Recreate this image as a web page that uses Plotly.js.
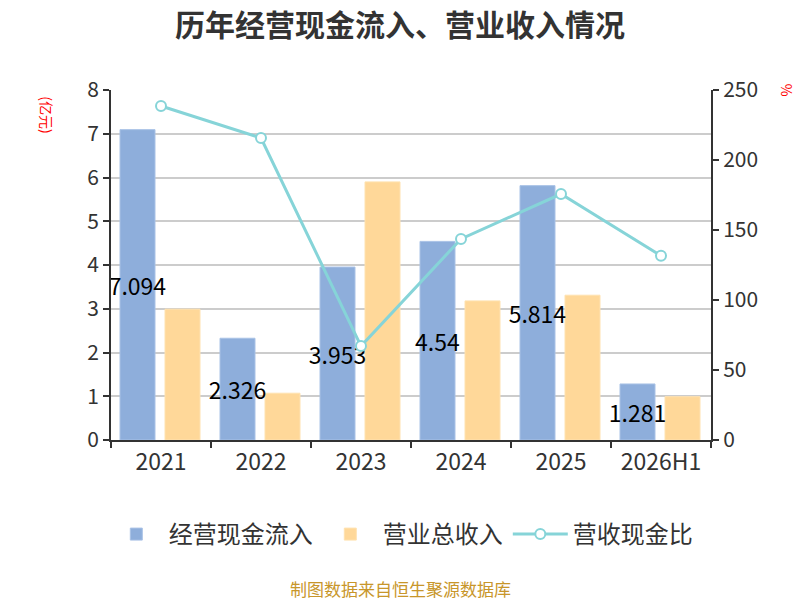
<!DOCTYPE html>
<html>
<head>
<meta charset="utf-8">
<script src="https://cdn.plot.ly/plotly-3.0.1.min.js"></script>
<style>
  html, body { margin: 0; padding: 0; background: #fff; }
  #chart { width: 800px; height: 600px; }
</style>
</head>
<body>
<div id="chart"></div>
<script>
// Chart data
const years = ['2021', '2022', '2023', '2024', '2025', '2026H1'];
const cashInflow = [7.094, 2.326, 3.953, 4.54, 5.814, 1.281];   // 经营现金流入 (亿元)
const revenue = [2.99, 1.07, 5.9, 3.18, 3.31, 0.99];            // 营业总收入 (亿元)
const cashRatio = [238.6, 215.7, 67.1, 143.6, 175.7, 131.6];    // 营收现金比 (%)

const FONT = '"Noto Sans CJK SC", "Noto Sans", sans-serif';

// revenue bars are drawn first so the cash-inflow labels sit on top of them
const traceRev = {
  x: years,
  y: revenue,
  name: '营业总收入',
  type: 'bar',
  width: 0.35,
  offset: 0.04,
  legendrank: 2,
  marker: { color: '#ffd899', line: { color: '#ffe2b0', width: 1 } },
  hoverinfo: 'x+y'
};

const traceCash = {
  x: years,
  y: cashInflow,
  name: '经营现金流入',
  type: 'bar',
  width: 0.35,
  offset: -0.41,
  legendrank: 1,
  marker: { color: '#8eaedb', line: { color: '#a9c2e6', width: 1 } },
  text: cashInflow.map(String),
  textposition: 'inside',
  insidetextanchor: 'middle',
  textangle: 0,
  constraintext: 'none',
  textfont: { color: '#000', size: 23, family: FONT },
  hoverinfo: 'x+y'
};

const traceRatio = {
  x: years,
  y: cashRatio,
  name: '营收现金比',
  type: 'scatter',
  mode: 'lines+markers',
  yaxis: 'y2',
  legendrank: 3,
  line: { color: '#86d4d8', width: 3 },
  marker: { symbol: 'circle', size: 10, color: '#fff', line: { color: '#86d4d8', width: 2 } }
};

const axisCommon = {
  showline: true,
  linecolor: '#333',
  linewidth: 2,
  ticks: 'outside',
  ticklen: 6,
  tickwidth: 2,
  tickcolor: '#333',
  zeroline: false
};

const layout = {
  width: 800,
  height: 600,
  paper_bgcolor: '#fff',
  plot_bgcolor: '#fff',
  font: { family: FONT, color: '#333', size: 20 },
  margin: { t: 90, r: 89, b: 160, l: 111 },
  title: {
    text: '<b>历年经营现金流入、营业收入情况</b>',
    font: { size: 30, color: '#333', family: FONT },
    x: 0.5, xanchor: 'center',
    y: 0.958, yanchor: 'middle'
  },
  barmode: 'overlay',
  xaxis: Object.assign({}, axisCommon, {
    type: 'category',
    tickson: 'boundaries',
    tickfont: { size: 23, color: '#333' },
    showgrid: false
  }),
  yaxis: Object.assign({}, axisCommon, {
    range: [0, 8],
    dtick: 1,
    tickfont: { size: 21, color: '#333' },
    showgrid: true,
    gridcolor: '#cccccc',
    gridwidth: 2
  }),
  yaxis2: Object.assign({}, axisCommon, {
    overlaying: 'y',
    side: 'right',
    range: [0, 250],
    dtick: 50,
    tickfont: { size: 21, color: '#333' },
    showgrid: false
  }),
  showlegend: true,
  legend: {
    orientation: 'h',
    x: 0.483, xanchor: 'center',
    y: -0.27, yanchor: 'middle',
    font: { size: 24, color: '#333' },
    itemwidth: 55,
    traceorder: 'normal'
  },
  annotations: [
    {
      text: '(亿元)',
      xref: 'paper', yref: 'paper',
      x: -0.108, y: 0.93,
      xanchor: 'center', yanchor: 'middle',
      textangle: 90,
      showarrow: false,
      font: { size: 14, color: '#ff0000' }
    },
    {
      text: '%',
      xref: 'paper', yref: 'paper',
      x: 1.127, y: 1.0,
      xanchor: 'center', yanchor: 'middle',
      textangle: 90,
      showarrow: false,
      font: { size: 14, color: '#ff0000' }
    },
    {
      text: '制图数据来自恒生聚源数据库',
      xref: 'paper', yref: 'paper',
      x: 0.483, y: -0.423,
      xanchor: 'center', yanchor: 'middle',
      showarrow: false,
      font: { size: 17, color: '#c8962a' }
    }
  ]
};

Plotly.newPlot('chart', [traceRev, traceCash, traceRatio], layout, { displayModeBar: false, staticPlot: true });
</script>
</body>
</html>
